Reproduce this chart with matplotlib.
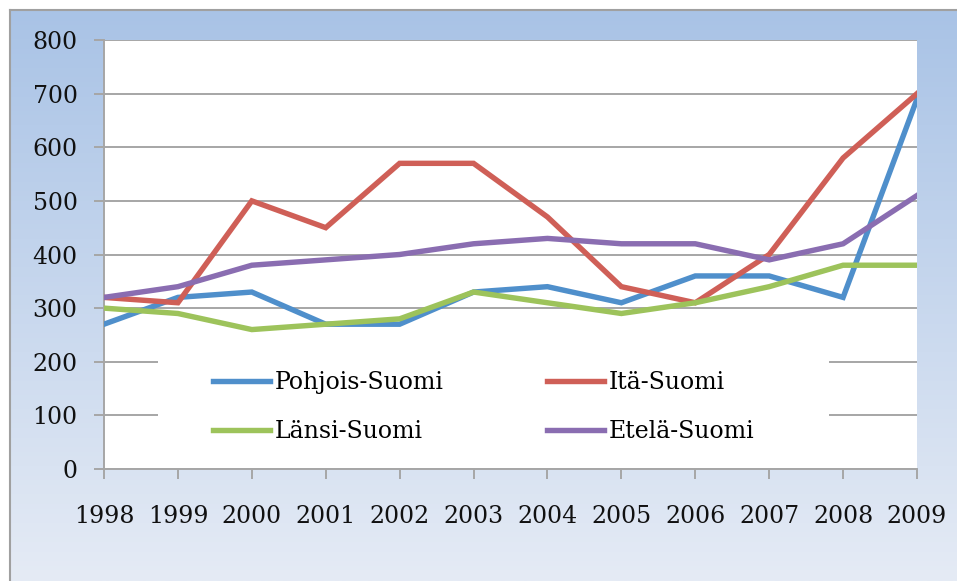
#!/usr/bin/env python3

import numpy as np
import matplotlib
matplotlib.use("Agg")
import matplotlib.pyplot as plt
from matplotlib.patches import Rectangle
from matplotlib.lines import Line2D


YEARS: list[int] = list(range(1998, 2010))

POHJOIS: list[int] = [270, 320, 330, 270, 270, 330, 340, 310, 360, 360, 320, 690]
ITA:     list[int] = [320, 310, 500, 450, 570, 570, 470, 340, 310, 400, 580, 700]
LANSI:   list[int] = [300, 290, 260, 270, 280, 330, 310, 290, 310, 340, 380, 380]
ETELA:   list[int] = [320, 340, 380, 390, 400, 420, 430, 420, 420, 390, 420, 510]

SERIES: list[tuple[str, list[int], str]] = [
    ("Pohjois-Suomi", POHJOIS, "#4F8FCB"),
    ("Itä-Suomi",     ITA,     "#CF5F57"),
    ("Länsi-Suomi",   LANSI,   "#9DC35B"),
    ("Etelä-Suomi",   ETELA,   "#8A6DB1"),
]

Y_TICKS: list[int] = list(range(0, 801, 100))

W, H = 957, 581
FONT = "DejaVu Serif"
GRID = "#A6A6A6"
LW = 3.9


def main() -> None:
    fig = plt.figure(figsize=(W / 100, H / 100), dpi=100)
    fig.patch.set_facecolor("white")

    # gradient chart background
    bg = fig.add_axes((10 / W, 0, 1 - 10 / W, (H - 10) / H))
    top = np.array([169, 195, 230]) / 255
    bot = np.array([229, 235, 245]) / 255
    t = np.linspace(0, 1, 256)[:, None]
    grad = (top * (1 - t) + bot * t)[:, None, :]
    bg.imshow(grad, aspect="auto", extent=(0, 1, 0, 1))
    bg.set_xticks([])
    bg.set_yticks([])
    for side in ("right", "bottom"):
        bg.spines[side].set_visible(False)
    for side in ("top", "left"):
        bg.spines[side].set_color("#A0A0A0")
        bg.spines[side].set_linewidth(1.5)

    ax = fig.add_axes((104 / W, (H - 469) / H, 813 / W, 429 / H))
    ax.set_facecolor("white")
    ax.set_axisbelow(True)

    for name, vals, color in SERIES:
        ax.plot(YEARS, vals, color=color, linewidth=LW,
                solid_joinstyle="miter", label=name, zorder=3)

    ax.set_xlim(YEARS[0], YEARS[-1])
    ax.set_ylim(0, 800)
    ax.set_xticks(YEARS)
    ax.set_yticks(Y_TICKS)
    ax.yaxis.grid(True, color=GRID, linewidth=1.4)

    for side in ("top", "right"):
        ax.spines[side].set_visible(False)
    for side in ("left", "bottom"):
        ax.spines[side].set_color(GRID)
        ax.spines[side].set_linewidth(1.4)

    ax.tick_params(axis="y", length=7, width=1.4, color=GRID, pad=12,
                   labelsize=17)
    ax.tick_params(axis="x", length=7, width=1.4, color=GRID, pad=19,
                   labelsize=17)
    for lab in ax.get_xticklabels() + ax.get_yticklabels():
        lab.set_fontfamily(FONT)
        lab.set_color("#111111")

    # white legend area covering the lower gridlines
    ax.add_patch(Rectangle((54 / 813, 14 / 429), (829 - 158) / 813, 118 / 429,
                           transform=ax.transAxes, facecolor="white",
                           edgecolor="none", zorder=2))

    order = [0, 2, 1, 3]
    handles = [Line2D([], [], color=SERIES[i][2], linewidth=LW) for i in order]
    labels = [SERIES[i][0] for i in order]
    ax.legend(handles, labels, ncol=2, loc="upper left",
              bbox_to_anchor=((213 - 104) / 813, (469 - 371) / 429),
              frameon=False, borderpad=0, borderaxespad=0,
              handlelength=2.4, handletextpad=0.2, columnspacing=4.4,
              labelspacing=1.1,
              prop={"family": FONT, "size": 17})

    fig.savefig("out.png", dpi=100)
    plt.close(fig)


if __name__ == "__main__":
    main()
